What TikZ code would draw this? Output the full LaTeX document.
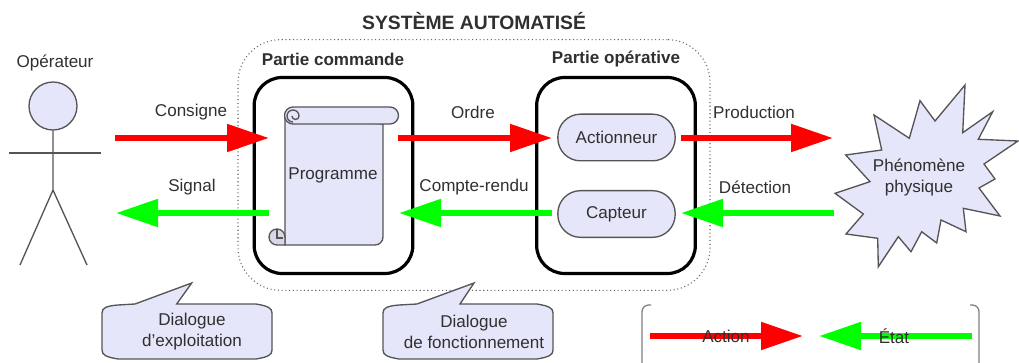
\documentclass[tikz,border=0pt]{standalone}
\usepackage{fontspec}
\setmainfont{Liberation Sans}
\usetikzlibrary{arrows.meta}
\definecolor{lav}{HTML}{E6E6FA}
\definecolor{edge}{HTML}{555555}
\definecolor{txt}{HTML}{303030}
\definecolor{act}{HTML}{FF0000}
\definecolor{eta}{HTML}{00FF00}
\tikzset{
  x=0.75pt,y=-0.75pt,
  bigtip/.style={-{Triangle[length=31.5pt,width=20pt]}},
  actionline/.style={draw=act,line width=4.6pt,bigtip},
  stateline/.style={draw=eta,line width=4.6pt,bigtip},
  lbl/.style={font=\fontsize{12.8}{15.8}\selectfont,text=txt,inner sep=0pt,align=center},
  head/.style={font=\fontsize{12.8}{15}\selectfont\bfseries,text=txt,inner sep=0pt},
  shapeline/.style={draw=edge,line width=1pt,fill=lav},
  person/.style={draw=edge,line width=1pt},
  part/.style={draw=black,line width=2.4pt,rounded corners=21pt,inner sep=0pt},
  pill/.style={shapeline,rounded corners=17pt,inner sep=0pt,font=\fontsize{12.8}{15}\selectfont,text=txt},
  bracket/.style={draw=gray,line width=1pt,rounded corners=5pt}
}
\begin{document}
\begin{tikzpicture}
\useasboundingbox (0,0) rectangle (1019,363);
% system frame
\node[draw=gray!80!black,dotted,line width=0.8pt,rounded corners=32pt,minimum width=354pt,minimum height=188pt,inner sep=0pt] (sys) at (474,165) {};
\node[head,font=\fontsize{14.5}{16}\selectfont\bfseries] (title) at (474,21) {SYSTÈME AUTOMATISÉ};
% parts
\node[part,minimum width=119pt,minimum height=147pt] (cmd) at (333.5,175.5) {};
\node[part,minimum width=119pt,minimum height=147pt] (ope) at (616,175.5) {};
\node[head] (cmdt) at (333,59) {Partie commande};
\node[head] (opet) at (616,59) {Partie opérative};
% scroll
\draw[shapeline] (285,116) -- (285,245) -- (375,245) arc (90:0:8) -- (383,124) -- cycle;
\draw[shapeline,fill=lav] (293,107) -- (390,107) arc (-90:90:8.5) -- (293,124) arc (90:270:8.5);
\draw[draw=edge,line width=1pt] (293,122) arc (90:360:6) arc (0:180:3.5);
\draw[shapeline,fill=lav!85!gray] (285,245) -- (277,245) arc (90:270:8) arc (-90:0:8) -- cycle;
\draw[draw=edge,line width=1pt] (277,229) -- (277,238) -- (283,238);
\node[lbl] (prog) at (333,175) {Programme};
% inner pills
\node[pill,minimum width=88pt,minimum height=35pt] (actn) at (616.5,137.5) {Actionneur};
\node[pill,minimum width=88pt,minimum height=35pt] (capt) at (616.5,214) {Capteur};
% operator
\node[shapeline,circle,minimum size=36pt,inner sep=0pt] (headp) at (53,106) {};
\coordinate (hip) at (53,190);
\coordinate (armL) at (9,153);
\coordinate (armR) at (101,153);
\coordinate (legL) at (20,265);
\coordinate (legR) at (87,265);
\draw[person] (headp.south) -- (hip) -- (legL);
\draw[person] (hip) -- (legR);
\draw[person] (armL) -- (armR);
\node[lbl] (oper) at (55,63) {Opérateur};
% phenomenon
\draw[shapeline,line join=miter] (965,85) -- (962.7,132.7) -- (992.7,111.7) -- (978.3,139.3) -- (1018,141) -- (984,164) -- (995,179) -- (979,188) -- (1000,216) -- (963.3,208.3) -- (966,231.7) -- (941,220) -- (936.7,243) -- (921.7,231.7) -- (911,251.7) -- (898.3,236.7) -- (878.3,266.7) -- (877.7,238.3) -- (846,234) -- (863.3,214) -- (835,193.3) -- (870,181.7) -- (845.7,155) -- (881.7,150) -- (874,115) -- (909.3,138.3) -- (920,100.7) -- (935,121) -- cycle;
\node[lbl] (phen) at (919,177.5) {Phénomène\\physique};
% arrow end points
\coordinate (a1) at (115,138); \coordinate (a2) at (269,138);
\coordinate (a3) at (398,138); \coordinate (a4) at (552,138);
\coordinate (a5) at (681,138); \coordinate (a6) at (833,138);
\coordinate (b1) at (269,213); \coordinate (b2) at (116,213);
\coordinate (b3) at (552,213); \coordinate (b4) at (399,213);
\coordinate (b5) at (834,213); \coordinate (b6) at (681,213);
\draw[actionline] (a1) -- (a2);
\draw[actionline] (a3) -- (a4);
\draw[actionline] (a5) -- (a6);
\draw[stateline] (b1) -- (b2);
\draw[stateline] (b3) -- (b4);
\draw[stateline] (b5) -- (b6);
\node[lbl] (l1) at (191,112) {Consigne};
\node[lbl] (l2) at (473,112) {Ordre};
\node[lbl] (l3) at (754,112) {Production};
\node[lbl] (l4) at (192,187) {Signal};
\node[lbl] (l5) at (474,187) {Compte-rendu};
\node[lbl] (l6) at (755,187) {Détection};
% callouts
\draw[shapeline,rounded corners=0pt] (135,304) -- (191.7,283) -- (176.7,304) -- (256,304) .. controls (268,306) and (272,308) .. (272,313) -- (272,350) .. controls (272,355) and (268,357) .. (256,359) -- (118,359) .. controls (106,357) and (102,355) .. (102,350) -- (102,313) .. controls (102,308) and (106,306) .. (118,305) -- cycle;
\node[lbl] (c1) at (192,332) {Dialogue\\d'exploitation};
\draw[shapeline,rounded corners=0pt] (417,304) -- (474,283) -- (460,304) -- (537,304) .. controls (549,306) and (553,308) .. (553,313) -- (553,350) .. controls (553,355) and (549,357) .. (537,359) -- (399,359) .. controls (387,357) and (383,355) .. (383,350) -- (383,313) .. controls (383,308) and (387,306) .. (399,305) -- cycle;
\node[lbl] (c2) at (474,332) {Dialogue\\de fonctionnement};
% legend
\coordinate (k1) at (642,363); \coordinate (k2) at (642,305); \coordinate (k3) at (651,305);
\coordinate (k4) at (979,363); \coordinate (k5) at (979,305); \coordinate (k6) at (970,305);
\draw[bracket] (k1) -- (k2) -- (k3);
\draw[bracket] (k4) -- (k5) -- (k6);
\coordinate (e1) at (650,336); \coordinate (e2) at (803,336);
\coordinate (e3) at (972,336); \coordinate (e4) at (819,336);
\draw[actionline] (e1) -- (e2);
\draw[stateline] (e3) -- (e4);
\node[lbl] (e5) at (726,336) {Action};
\node[lbl] (e6) at (894,336) {État};
\end{tikzpicture}
\end{document}
